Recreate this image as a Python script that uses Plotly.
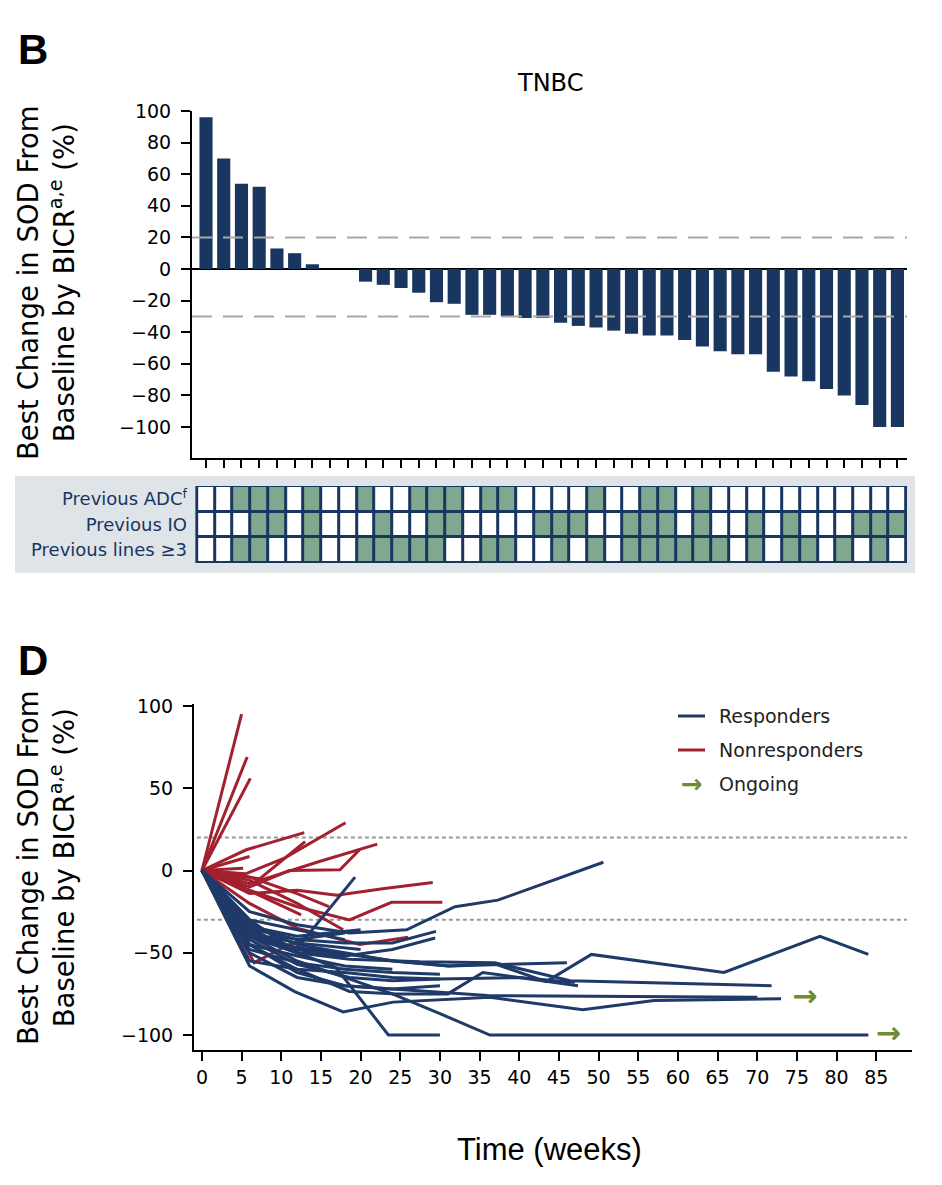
import plotly.graph_objects as go

# ---------------- data ----------------
best_change = [96, 70, 54, 52, 13, 10, 3, 0, 0, -8, -10, -12, -15, -21, -22, -29, -29, -30, -31, -31,
               -34, -36, -37, -39, -41, -42, -42, -45, -49, -52, -54, -54, -65, -68, -71, -76, -80, -86, -100, -100]

row_labels = ["Previous ADC<sup>f</sup>", "Previous IO", "Previous lines \u22653"]
prev_adc = [0,0,1,1,1,0,1,0,0,1,0,0,1,1,1,0, 1,1,0,0,0,0,1,0,0,1,1,0,1,0,0,0,0,0,0,0,0,0,0,0]
prev_io = [0,0,0,1,1,0,1,0,0,0,1,0,0,1,1,0, 0,0,0,1,1,1,0,0,1,1,1,0,1,0,0,1,0,1,0,0,0,1,1,1]
prev_lines3 = [0,0,1,1,0,0,1,0,0,1,1,1,1,1,0,0, 1,1,0,0,1,0,1,0,1,1,1,1,1,1,0,1,0,1,1,0,1,0,1,0]

nonresp_weeks = [
    [0, 5], [0, 5.7], [0, 6.1], [0, 5.6, 12.9], [0, 5.5, 10.4, 18.1], [0, 7.3, 13],
    [0, 6, 11, 17.4, 19.9], [0, 6, 14.8, 22.1], [0, 6, 12, 17, 23, 29.1],
    [0, 6, 12, 18.6, 23.9, 30.3], [0, 6, 12, 19.9, 26], [0, 5.2], [0, 6],
    [0, 6.6, 11, 13], [0, 5, 12.5], [0, 6, 12, 17.8], [0, 6, 12, 16],
]
nonresp_values = [
    [0, 95], [0, 69], [0, 56], [0, 12.6, 23], [0, -2, 7.5, 29], [0, -5, 17.6],
    [0, -10, 0, 0.4, 12.8], [0, -8, 5.5, 16], [0, -14, -12, -15, -11, -7.3],
    [0, -12, -22, -30, -19.3, -19.3], [0, -20, -35, -45, -40.5], [0, 1.4], [0, 8.5],
    [0, -56, -45, -42], [0, -10, -27], [0, -6, -20, -36], [0, -4, -14, -22],
]

resp_weeks = [
    [0, 6, 12, 18, 24, 31, 36.9, 43.4, 49.1, 65.8, 77.9, 84],
    [0, 6, 12, 18.6, 25.8, 31.9, 37.3, 50.6],
    [0, 6, 11.7, 19.3],
    [0, 6, 12, 18, 24, 29.5],
    [0, 6, 12, 18, 24, 29.4],
    [0, 6, 12, 16.9, 23.5, 30],
    [0, 6, 12, 18.6, 24, 30, 36.3, 84],
    [0, 6, 11.7, 17.8, 24.1, 36.3, 48, 57, 73],
    [0, 6, 12, 18.6, 24.5, 31, 35.4, 47.4],
    [0, 6, 12, 18.6, 24.3, 31.2, 46],
    [0, 6, 12, 18.6, 27.5, 36.9, 46.4, 71.8],
    [0, 6, 12, 18.6, 24, 30, 40, 47],
    [0, 6, 12, 18],
    [0, 6, 12, 18, 36, 70],
    [0, 6, 12, 18, 24, 30],
    [0, 6, 12, 18],
    [0, 5, 10, 15],
    [0, 6, 12, 20],
    [0, 6, 12, 18, 24, 30],
    [0, 6, 12, 18],
    [0, 6, 12, 18, 24, 30],
    [0, 6, 12, 18, 24],
    [0, 6, 12, 20],
]
resp_values = [
    [0, -32, -45, -50, -55, -58, -56.7, -67.5, -51, -62, -40, -51],
    [0, -25, -33, -38, -36, -22, -18, 5],
    [0, -30, -49, -4],
    [0, -35, -42, -44, -44, -37],
    [0, -40, -50, -52, -48, -41],
    [0, -38, -50, -59, -100, -100],
    [0, -40, -55, -66, -75, -87, -100, -100],
    [0, -58, -73.6, -86, -80, -77, -84.7, -79, -78],
    [0, -45, -60, -73.5, -75, -75, -62, -70],
    [0, -38, -47, -51, -55, -58, -56],
    [0, -40, -50, -54, -55.5, -56, -67, -70],
    [0, -42, -57, -65, -67, -66, -65, -68],
    [0, -35, -42, -38],
    [0, -45, -62, -70, -76, -77],
    [0, -50, -65, -70, -72, -70],
    [0, -36, -48, -52],
    [0, -32, -45, -50],
    [0, -38, -44, -48],
    [0, -55, -60, -62, -65, -66],
    [0, -30, -36, -42],
    [0, -48, -56, -60, -62, -63],
    [0, -45, -52, -58, -60],
    [0, -34, -40, -36],
]

ongoing_weeks = [76, 86.5]
ongoing_values = [-77.5, -100]

bar_ticks = [100, 80, 60, 40, 20, 0, -20, -40, -60, -80, -100]
spider_yticks = [100, 50, 0, -50, -100]
spider_xticks = list(range(0, 90, 5))

# ---------------- styling helpers ----------------
W, H = 926, 1169
OX, OY = 8, 8
def px(x): return (x - OX) / W
def py(y): return 1 - (y - OY) / H

NAVY = '#18365f'
GREEN_CELL = '#7fa88f'
RED = '#a3202f'
BLUE = '#1f3a68'
ARROW = '#6e8c32'
FONT = 'DejaVu Sans'

fig = go.Figure()

fig.add_trace(go.Bar(x=list(range(len(best_change))), y=best_change, marker=dict(color=NAVY, line=dict(width=0)),
                     width=0.74, xaxis='x', yaxis='y', showlegend=False, hoverinfo='skip'))

fig.add_trace(go.Heatmap(z=[prev_adc, prev_io, prev_lines3], x=list(range(40)), y=[0, 1, 2],
                         xaxis='x2', yaxis='y2', colorscale=[[0, '#ffffff'], [1, GREEN_CELL]],
                         zmin=0, zmax=1, showscale=False, xgap=3, ygap=3, hoverinfo='skip'))

for w, v in zip(nonresp_weeks, nonresp_values):
    fig.add_trace(go.Scatter(x=w, y=v, mode='lines', line=dict(color=RED, width=3),
                             xaxis='x3', yaxis='y3', showlegend=False, hoverinfo='skip'))
for w, v in zip(resp_weeks, resp_values):
    fig.add_trace(go.Scatter(x=w, y=v, mode='lines', line=dict(color=BLUE, width=3),
                             xaxis='x3', yaxis='y3', showlegend=False, hoverinfo='skip'))
fig.add_trace(go.Scatter(x=ongoing_weeks, y=ongoing_values, mode='text', text=['\u2192'] * len(ongoing_weeks),
                         textfont=dict(color=ARROW, size=30, family='DejaVu Sans', weight='bold'),
                         textposition='middle center',
                         xaxis='x3', yaxis='y3', showlegend=False, hoverinfo='skip'))

tickfont = dict(family=FONT, size=19, color='black')
axis_common = dict(showline=True, linecolor='black', linewidth=2, ticks='outside', tickwidth=2,
                   tickcolor='black', showgrid=False, zeroline=False, fixedrange=True, automargin=False)

shapes = [
    dict(type='rect', xref='paper', yref='paper', x0=px(15), x1=px(915), y0=py(573), y1=py(476),
         fillcolor='#dfe4e9', line=dict(width=0), layer='below'),
    dict(type='rect', xref='x2', yref='y2', x0=-0.6, x1=39.6, y0=-0.57, y1=2.57,
         fillcolor=NAVY, line=dict(width=0), layer='below'),
    dict(type='line', xref='x domain', yref='y', x0=0, x1=1, y0=20, y1=20,
         line=dict(color='#a8a8a8', width=2, dash='20px,11px'), layer='above'),
    dict(type='line', xref='x domain', yref='y', x0=0, x1=1, y0=-30, y1=-30,
         line=dict(color='#a8a8a8', width=2, dash='20px,11px'), layer='above'),
    dict(type='line', xref='x3 domain', yref='y3', x0=0.004, x1=0.993, y0=20, y1=20,
         line=dict(color='#999999', width=2, dash='4px,3px'), layer='below'),
    dict(type='line', xref='x3 domain', yref='y3', x0=0.004, x1=0.993, y0=-30, y1=-30,
         line=dict(color='#999999', width=2, dash='4px,3px'), layer='below'),
    # legend samples
    dict(type='line', xref='paper', yref='paper', x0=px(678), x1=px(705), y0=py(716), y1=py(716),
         line=dict(color=BLUE, width=3)),
    dict(type='line', xref='paper', yref='paper', x0=px(678), x1=px(705), y0=py(750), y1=py(750),
         line=dict(color=RED, width=3)),
]

ytitle = "Best Change in SOD From<br>Baseline by BICR<sup>a,e</sup> (%)"
annotations = [
    dict(text='<b>B</b>', x=px(16), y=py(50), xref='paper', yref='paper', xanchor='left', yanchor='middle',
         showarrow=False, font=dict(family='Liberation Sans', size=42, color='black')),
    dict(text='<b>D</b>', x=px(16), y=py(660), xref='paper', yref='paper', xanchor='left', yanchor='middle',
         showarrow=False, font=dict(family='Liberation Sans', size=42, color='black')),
    dict(text='TNBC', x=px(550), y=py(83), xref='paper', yref='paper', xanchor='center', yanchor='middle',
         showarrow=False, font=dict(family=FONT, size=24, color='black')),
    dict(text=ytitle, x=px(46), y=py(283), xref='paper', yref='paper', xanchor='center', yanchor='middle',
         textangle=-90, showarrow=False, font=dict(family=FONT, size=27.5, color='black')),
    dict(text=ytitle, x=px(46), y=py(868), xref='paper', yref='paper', xanchor='center', yanchor='middle',
         textangle=-90, showarrow=False, font=dict(family=FONT, size=27.5, color='black')),
    dict(text='Time (weeks)', x=px(549), y=py(1149), xref='paper', yref='paper', xanchor='center', yanchor='middle',
         showarrow=False, font=dict(family='Liberation Sans Narrow, Liberation Sans', size=31, color='black')),
    dict(text='Responders', x=px(717), y=py(716), xref='paper', yref='paper', xanchor='left', yanchor='middle',
         showarrow=False, font=dict(family=FONT, size=19, color='#222222')),
    dict(text='Nonresponders', x=px(717), y=py(750), xref='paper', yref='paper', xanchor='left', yanchor='middle',
         showarrow=False, font=dict(family=FONT, size=19, color='#222222')),
    dict(text='Ongoing', x=px(717), y=py(784), xref='paper', yref='paper', xanchor='left', yanchor='middle',
         showarrow=False, font=dict(family=FONT, size=19, color='#222222')),
    dict(text='\u2192', x=px(692), y=py(784), xref='paper', yref='paper', xanchor='center', yanchor='middle',
         showarrow=False, font=dict(family=FONT, size=26, color=ARROW, weight='bold')),
]

fig.update_layout(
    width=W, height=H, margin=dict(l=0, r=0, t=0, b=0, pad=0),
    paper_bgcolor='white', plot_bgcolor='rgba(0,0,0,0)', showlegend=False,
    xaxis=dict(axis_common, domain=[px(192), px(907)], range=[-0.79, 39.54], tickvals=list(range(40)),
               ticklen=8, showticklabels=False, anchor='y'),
    yaxis=dict(axis_common, domain=[py(458), py(111)], range=[-119.6, 100], tickvals=bar_ticks,
               ticklen=9, tickfont=tickfont, zeroline=True, zerolinecolor='black', zerolinewidth=2,
               anchor='x', ticklabelstandoff=6),
    xaxis2=dict(domain=[px(192), px(907)], range=[-0.79, 39.54], visible=False, anchor='y2',
                fixedrange=True, automargin=False),
    yaxis2=dict(domain=[py(563), py(486)], range=[2.5, -0.5], tickvals=[0, 1, 2], ticktext=row_labels,
                showline=False, showgrid=False, zeroline=False, ticks='', anchor='x2', fixedrange=True,
                automargin=False, tickfont=dict(family=FONT, size=18, color=NAVY), ticklabelstandoff=4),
    xaxis3=dict(axis_common, domain=[px(194), px(912)], range=[-1.0, 89.5], tickvals=spider_xticks,
                ticklen=9, tickfont=tickfont, anchor='y3'),
    yaxis3=dict(axis_common, domain=[py(1050), py(704)], range=[-109.1, 101.2], tickvals=spider_yticks,
                ticklen=9, tickfont=tickfont, anchor='x3', ticklabelstandoff=6),
    shapes=shapes, annotations=annotations,
)

fig.write_html("out.html")
